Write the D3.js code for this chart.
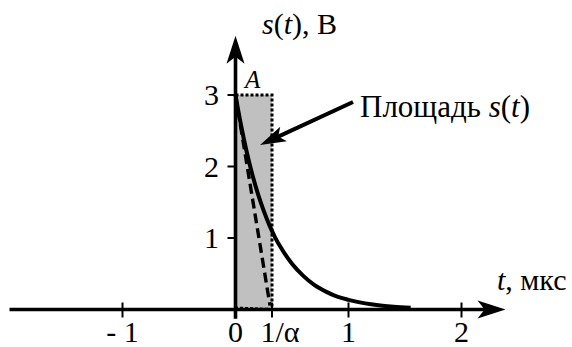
<!DOCTYPE html>
<html>
<head>
<meta charset="utf-8">
<script src="https://cdn.jsdelivr.net/npm/d3@7"></script>
<style>
  html, body { margin: 0; padding: 0; background: #fff; }
  svg { display: block; }
</style>
</head>
<body>
<svg id="chart" width="572" height="347"></svg>
<script>
// Exponential pulse s(t) = A·e^(−αt), sampled points (t in µs, s in V)
const pulseT = [0, 0.05, 0.1, 0.15, 0.2, 0.25, 0.3, 0.35, 0.4, 0.5, 0.6, 0.7, 0.8, 0.9, 1.0, 1.1, 1.2, 1.3, 1.4, 1.55];
const pulseS = [3, 2.57, 2.20, 1.88, 1.61, 1.38, 1.18, 1.01, 0.87, 0.64, 0.47, 0.34, 0.25, 0.18, 0.135, 0.10, 0.073, 0.053, 0.039, 0.025];

const amplitude = 3;          // A
const invAlpha = 0.323;       // 1/α, µs

// Axis ticks
const xTicks = [-1, 0, invAlpha, 1, 2];
const xTickLabels = ["- 1", "0", "1/α", "1", "2"];
const yTicks = [1, 2, 3];
const yTickLabels = ["1", "2", "3"];

const FONT = "Liberation Serif";
const FS = 30; // label font size

const svg = d3.select("#chart");

const x = d3.scaleLinear().domain([0, 1]).range([235.5, 348.5]);
const y = d3.scaleLinear().domain([0, 3]).range([309.5, 95]);

const xMin = -2, xMax = 2.39;    // extent of the t axis
const yBottom = -0.13, yTop = 3.83; // extent of the s axis

function label(sel) {
  return sel.style("font-family", FONT).attr("fill", "#000");
}

// Shaded rectangle of area A·(1/α)
svg.append("rect")
  .attr("x", x(0)).attr("y", y(amplitude))
  .attr("width", x(invAlpha) - x(0))
  .attr("height", y(0) - y(amplitude))
  .attr("fill", "#c0c0c0");

// Dotted outline of the rectangle
svg.append("path")
  .attr("d", d3.line()([[x(0), y(amplitude)], [x(invAlpha), y(amplitude)], [x(invAlpha), y(0)], [x(0), y(0) - 1.5]]))
  .attr("fill", "none").attr("stroke", "#000")
  .attr("stroke-width", 3).attr("stroke-dasharray", "3,2");

// Tangent at t = 0 (dashed)
svg.append("line")
  .attr("x1", x(0)).attr("y1", y(amplitude))
  .attr("x2", x(invAlpha) - 2).attr("y2", y(0) - 4)
  .attr("stroke", "#000").attr("stroke-width", 3.4)
  .attr("stroke-dasharray", "10,5");

// Pulse curve
const curveData = pulseT.map((t, i) => [t, pulseS[i]]);
svg.append("path")
  .datum(curveData)
  .attr("d", d3.line().x(d => x(d[0])).y(d => y(d[1])).curve(d3.curveMonotoneX))
  .attr("fill", "none").attr("stroke", "#000").attr("stroke-width", 4);

// Axes lines
svg.append("line")
  .attr("x1", x(xMin)).attr("y1", y(0)).attr("x2", x(xMax) - 10).attr("y2", y(0))
  .attr("stroke", "#000").attr("stroke-width", 3.6);
svg.append("line")
  .attr("x1", x(0)).attr("y1", y(yBottom)).attr("x2", x(0)).attr("y2", y(yTop) + 10)
  .attr("stroke", "#000").attr("stroke-width", 3.6);

// Arrowheads
function arrowHead(tx, ty, dir) {
  // dir: "right" or "up"; stealth-shaped head
  const L = 28, W = 9, N = 7;
  let pts;
  if (dir === "right") {
    pts = [[tx, ty], [tx - L, ty - W], [tx - L + N, ty], [tx - L, ty + W]];
  } else {
    pts = [[tx, ty], [tx - W, ty + L], [tx, ty + L - N], [tx + W, ty + L]];
  }
  svg.append("path").attr("d", d3.line()(pts) + "Z").attr("fill", "#000");
}
arrowHead(x(xMax), y(0), "right");
arrowHead(x(0), y(yTop), "up");

// x ticks
svg.selectAll(".xt").data(xTicks).join("line")
  .attr("x1", d => x(d)).attr("x2", d => x(d))
  .attr("y1", y(0) - 7).attr("y2", y(0) + 8)
  .attr("stroke", "#000").attr("stroke-width", 2);
label(svg.selectAll(".xl").data(xTicks).join("text"))
  .attr("x", (d, i) => x(d) + (i === 2 ? 8 : 0))
  .attr("y", 342)
  .attr("text-anchor", "middle")
  .attr("font-size", FS)
  .text((d, i) => xTickLabels[i]);

// y ticks
svg.selectAll(".yt").data(yTicks).join("line")
  .attr("x1", x(0) - 8).attr("x2", x(0))
  .attr("y1", d => y(d)).attr("y2", d => y(d))
  .attr("stroke", "#000").attr("stroke-width", 2);
label(svg.selectAll(".yl").data(yTicks).join("text"))
  .attr("x", 219).attr("y", d => y(d) + 10)
  .attr("text-anchor", "end")
  .attr("font-size", FS)
  .text((d, i) => yTickLabels[i]);

// Axis titles
const sTitle = label(svg.append("text")).attr("x", 262).attr("y", 34).attr("font-size", FS);
sTitle.append("tspan").attr("font-style", "italic").text("s");
sTitle.append("tspan").text("(");
sTitle.append("tspan").attr("font-style", "italic").text("t");
sTitle.append("tspan").text("), В");

const tTitle = label(svg.append("text")).attr("x", 497).attr("y", 290).attr("font-size", FS);
tTitle.append("tspan").attr("font-style", "italic").text("t");
tTitle.append("tspan").text(", мкс");

// Amplitude label
label(svg.append("text")).attr("x", 245).attr("y", 88)
  .attr("font-size", 25).attr("font-style", "italic").text("A");

// Area annotation with pointer
const aLabel = label(svg.append("text")).attr("x", 360).attr("y", 117).attr("font-size", 31);
aLabel.append("tspan").text("Площадь ");
aLabel.append("tspan").attr("font-style", "italic").text("s");
aLabel.append("tspan").text("(");
aLabel.append("tspan").attr("font-style", "italic").text("t");
aLabel.append("tspan").text(")");

const p0 = [353, 102], p1 = [260, 145];
const ang = Math.atan2(p1[1] - p0[1], p1[0] - p0[0]);
const headL = 26, headW = 8, notch = 6;
const ux = Math.cos(ang), uy = Math.sin(ang);
const bx = p1[0] - ux * headL, by = p1[1] - uy * headL;
svg.append("line")
  .attr("x1", p0[0]).attr("y1", p0[1])
  .attr("x2", bx + ux * notch).attr("y2", by + uy * notch)
  .attr("stroke", "#000").attr("stroke-width", 4);
svg.append("path")
  .attr("d", d3.line()([
    p1,
    [bx - uy * headW, by + ux * headW],
    [bx + ux * notch, by + uy * notch],
    [bx + uy * headW, by - ux * headW]
  ]) + "Z")
  .attr("fill", "#000");
</script>
</body>
</html>
